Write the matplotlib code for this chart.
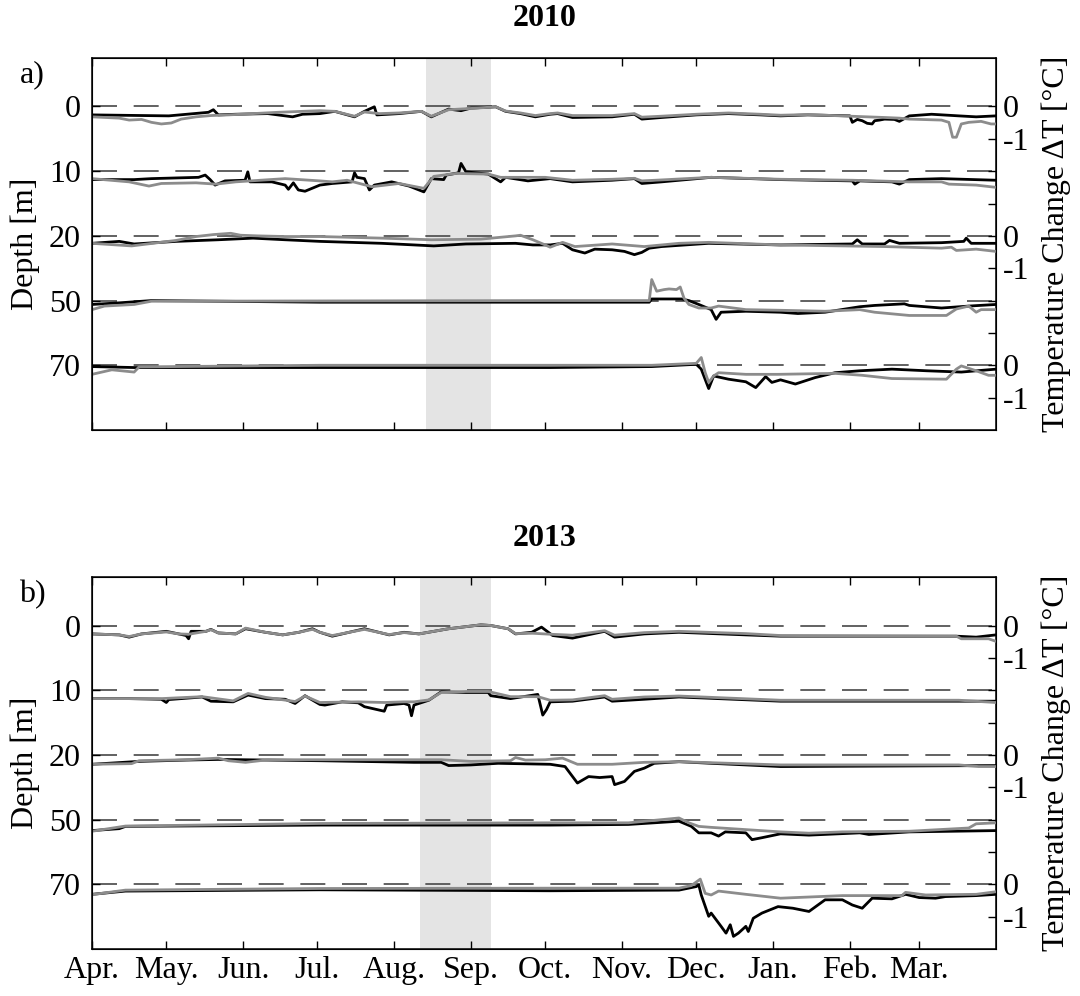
import matplotlib.pyplot as plt
import numpy as np

plt.rcParams['font.family'] = ['Liberation Serif', 'DejaVu Serif']
plt.rcParams['lines.scale_dashes'] = False

# day of year counted from 1 April
month_days = [0, 30, 61, 91, 122, 153, 183, 214, 244, 275, 306, 334]
month_names = ['Apr.', 'May.', 'Jun.', 'Jul.', 'Aug.', 'Sep.', 'Oct.', 'Nov.',
               'Dec.', 'Jan.', 'Feb.', 'Mar.']
depths = ['0', '10', '20', '50', '70']

# shaded period (days)
shade_2010 = (135, 161)
shade_2013 = (132.4, 161)

# temperature change dT [degC] as (day, value); black / gray instrument
a0_blk = [(0,-0.26),(31,-0.29),(47,-0.18),(49,-0.10),(51,-0.26),(58,-0.24),(71,-0.22),(81,-0.32),(85,-0.24),(92,-0.22),
          (98,-0.15),(106,-0.32),(110,-0.15),(114,-0.01),(115,-0.26),(124,-0.22),(133,-0.15),(137,-0.32),(144,-0.08),
          (149,-0.13),(153,-0.05),(163,-0.01),(167,-0.15),(173,-0.22),(179,-0.32),(185,-0.24),(188,-0.22),(194,-0.34),
          (210,-0.32),(219,-0.24),(222,-0.39),(230,-0.34),(244,-0.26),(257,-0.22),(270,-0.26),(278,-0.29),(289,-0.26),
          (306,-0.29),(307,-0.49),(309,-0.40),(311,-0.44),(313,-0.52),(315,-0.54),(316,-0.44),(318,-0.42),(320,-0.39),
          (324,-0.40),(326,-0.46),(330,-0.29),(339,-0.24),(350,-0.29),(357,-0.32),(365,-0.29)]
a0_gry = [(0,-0.32),(11,-0.36),(15,-0.42),(20,-0.40),(24,-0.49),(28,-0.54),(32,-0.51),(36,-0.39),(42,-0.32),(48,-0.28),
          (55,-0.26),(65,-0.22),(75,-0.18),(85,-0.15),(92,-0.13),(98,-0.15),(106,-0.30),(110,-0.17),(116,-0.22),
          (124,-0.20),(133,-0.15),(137,-0.30),(144,-0.10),(153,-0.06),(163,-0.01),(167,-0.14),(173,-0.20),(179,-0.28),
          (185,-0.22),(188,-0.20),(194,-0.28),(210,-0.28),(219,-0.22),(222,-0.33),(230,-0.30),(244,-0.24),(257,-0.20),
          (270,-0.24),(278,-0.27),(289,-0.25),(306,-0.30),(320,-0.34),(326,-0.36),(330,-0.39),(343,-0.42),(346,-0.49),
          (347.5,-0.95),(349,-0.95),(351,-0.54),(354,-0.49),(359,-0.46),(363,-0.54),(365,-0.54)]
a10_blk = [(0,-0.26),(17,-0.26),(24,-0.23),(43,-0.19),(45.7,-0.12),(47.7,-0.26),(49.7,-0.43),(53.7,-0.30),(61.8,-0.28),
           (62.9,-0.02),(63.8,-0.33),(72.6,-0.33),(78,-0.43),(79.3,-0.56),(81.3,-0.36),(83.3,-0.58),(86,-0.62),(92,-0.43),
           (97,-0.38),(105,-0.33),(106,-0.05),(107,-0.19),(110,-0.23),(112,-0.58),(114,-0.43),(121,-0.33),(128,-0.46),
           (134,-0.64),(137,-0.23),(142,-0.26),(143,-0.12),(148,-0.05),(149,0.24),(151,-0.02),(160,-0.09),(165,-0.33),
           (167,-0.19),(176,-0.30),(185,-0.23),(194,-0.33),(210,-0.28),(219,-0.23),(222,-0.38),(230,-0.33),(250,-0.19),
           (278,-0.26),(307,-0.30),(308,-0.40),(310,-0.30),(323,-0.33),(326,-0.40),(330,-0.26),(343,-0.23),(365,-0.28)]
a10_gry = [(0,-0.23),(15,-0.33),(23,-0.46),(28,-0.38),(42,-0.36),(50,-0.40),(58,-0.33),(78,-0.23),(92,-0.30),(97,-0.33),
           (103,-0.28),(113,-0.48),(124,-0.38),(134,-0.53),(138,-0.16),(147,-0.07),(160,-0.09),(165,-0.19),(183,-0.19),
           (194,-0.28),(210,-0.25),(219,-0.22),(222,-0.30),(230,-0.27),(250,-0.19),(278,-0.25),(307,-0.28),(330,-0.33),
           (343,-0.33),(346,-0.40),(357,-0.43),(365,-0.50)]
a20_blk = [(0,-0.23),(11,-0.17),(17,-0.25),(34,-0.17),(51,-0.12),(65,-0.07),(78,-0.12),(92,-0.17),(117,-0.23),(138,-0.31),
           (151,-0.25),(171,-0.23),(178,-0.28),(185,-0.28),(190,-0.23),(194,-0.43),(199,-0.53),(203,-0.41),(210,-0.43),
           (215,-0.48),(219,-0.58),(222,-0.51),(225,-0.38),(230,-0.33),(249,-0.23),(278,-0.28),(307,-0.25),(309,-0.12),
           (311,-0.25),(320,-0.25),(322,-0.14),(326,-0.23),(343,-0.21),(352,-0.17),(353,-0.07),(355,-0.23),(365,-0.23)]
a20_gry = [(0,-0.23),(16,-0.31),(34,-0.14),(42,-0.02),(49,0.04),(56,0.08),(60,0.02),(67,0.0),(78,-0.02),(92,-0.02),
           (117,-0.07),(137,-0.12),(157,-0.10),(171,0.0),(173,0.02),(178,-0.12),(183,-0.28),(185,-0.35),(190,-0.20),
           (195,-0.33),(210,-0.25),(223,-0.33),(237,-0.23),(249,-0.20),(278,-0.28),(320,-0.33),(343,-0.38),(347,-0.35),
           (349,-0.45),(357,-0.41),(365,-0.48)]
a50_blk = [(0,-0.12),(11,-0.07),(24,0.0),(92,-0.05),(185,-0.05),(225,-0.05),(226,0.05),(238,0.05),(241,0.0),(245,-0.12),
           (250,-0.28),(252,-0.58),(254,-0.36),(264,-0.33),(278,-0.36),(285,-0.40),(296,-0.36),(310,-0.19),(316,-0.15),
           (328,-0.10),(330,-0.15),(343,-0.23),(354,-0.17),(365,-0.12)]
a50_gry = [(0,-0.28),(5,-0.17),(17,-0.12),(24,-0.02),(185,0.0),(225,0.0),(226,0.65),(228,0.29),(231,0.34),(233,0.36),
           (236,0.34),(237.5,0.42),(239,0.08),(241,-0.12),(245,-0.23),(250,-0.23),(253,-0.17),(264,-0.28),(278,-0.30),
           (296,-0.33),(310,-0.28),(316,-0.36),(330,-0.46),(345,-0.46),(349,-0.26),(354,-0.17),(357,-0.36),(359,-0.28),
           (365,-0.28)]
a70_blk = [(0,-0.04),(17,-0.07),(92,-0.07),(185,-0.07),(226,-0.04),(244,0.03),(246,-0.12),(249,-0.72),(251,-0.33),
           (257,-0.43),(264,-0.51),(268,-0.69),(272,-0.35),(274.5,-0.53),(278,-0.45),(284,-0.58),(292,-0.38),(300,-0.23),
           (310,-0.17),(323,-0.12),(337,-0.17),(351,-0.21),(365,-0.12)]
a70_gry = [(0,-0.28),(8,-0.14),(17,-0.21),(19,-0.05),(92,0.0),(226,0.0),(244,0.06),(246,0.24),(247.6,-0.23),(249,-0.53),
           (251,-0.33),(253,-0.23),(264,-0.28),(277,-0.28),(300,-0.25),(311,-0.31),(323,-0.41),(345,-0.43),(349,-0.12),
           (351,-0.02),(357,-0.17),(362,-0.31),(365,-0.31)]

b0_blk = [(0,-0.26),(11,-0.29),(15,-0.36),(20,-0.26),(30,-0.18),(35,-0.26),(38,-0.31),(39,-0.41),(40,-0.18),(46,-0.18),
          (48,-0.12),(51,-0.23),(58,-0.26),(62,-0.10),(70,-0.21),(77,-0.29),(83.5,-0.21),(89,-0.10),(92,-0.21),(97,-0.33),
          (110,-0.10),(120,-0.29),(126,-0.21),(132,-0.26),(144,-0.10),(157,0.02),(161,0.0),(168,-0.10),(171,-0.26),
          (177.5,-0.21),(181.5,-0.05),(186,-0.31),(194,-0.39),(207,-0.18),(211,-0.36),(223,-0.26),(237,-0.21),
          (264,-0.29),(278,-0.33),(349,-0.33),(357,-0.36),(365,-0.29)]
b0_gry = [(0,-0.26),(11,-0.29),(15,-0.34),(20,-0.26),(30,-0.20),(35,-0.26),(39,-0.27),(46,-0.18),(48,-0.13),(51,-0.23),
          (58,-0.26),(62,-0.08),(70,-0.21),(77,-0.29),(83.5,-0.21),(89,-0.12),(92,-0.21),(97,-0.31),(110,-0.12),
          (120,-0.28),(126,-0.22),(132,-0.26),(144,-0.10),(157,0.02),(161,0.0),(168,-0.10),(171,-0.25),(178,-0.24),
          (185,-0.27),(194,-0.30),(207,-0.16),(211,-0.30),(223,-0.22),(237,-0.18),(264,-0.25),(278,-0.31),(349,-0.33),
          (351,-0.41),(362,-0.41),(365,-0.49)]
b10_blk = [(0,-0.26),(15,-0.26),(28,-0.28),(30,-0.38),(31,-0.29),(44.5,-0.21),(48,-0.34),(57,-0.36),(63,-0.15),(70,-0.26),
           (78,-0.28),(82,-0.41),(86,-0.17),(92,-0.44),(94,-0.46),(101,-0.36),(107.5,-0.39),(110,-0.51),(118,-0.65),
           (119,-0.46),(126,-0.41),(128,-0.46),(129,-0.79),(130,-0.46),(136,-0.31),(141,-0.05),(151,-0.07),(160,-0.07),
           (161,-0.17),(169,-0.26),(180,-0.13),(182,-0.77),(183.5,-0.60),(185,-0.36),(194,-0.34),(207,-0.21),(210,-0.34),
           (223,-0.28),(237,-0.21),(278,-0.34),(365,-0.34)]
b10_gry = [(0,-0.26),(28,-0.26),(44.5,-0.20),(57,-0.33),(63,-0.10),(70,-0.22),(82,-0.35),(86,-0.18),(92,-0.38),
           (107.5,-0.36),(118,-0.38),(126,-0.36),(130,-0.36),(136,-0.30),(141,-0.07),(151,-0.04),(160,-0.04),(169,-0.20),
           (180,-0.20),(185,-0.31),(194,-0.30),(207,-0.17),(210,-0.28),(223,-0.21),(237,-0.18),(278,-0.31),(350,-0.31),
           (365,-0.38)]
b20_blk = [(0,-0.29),(19,-0.20),(38,-0.16),(51,-0.14),(92,-0.18),(130,-0.23),(141,-0.23),(144,-0.33),(153,-0.31),
           (164,-0.26),(185,-0.29),(191,-0.36),(196,-0.87),(200.5,-0.67),(205,-0.70),(210,-0.67),(211,-0.92),(215,-0.82),
           (219,-0.51),(223,-0.41),(227,-0.26),(237,-0.21),(250,-0.26),(278,-0.36),(365,-0.33)]
b20_gry = [(0,-0.29),(16,-0.27),(19,-0.18),(38,-0.15),(51,-0.10),(55,-0.18),(62,-0.23),(71,-0.15),(92,-0.15),(141,-0.15),
           (153,-0.20),(169,-0.18),(171,-0.08),(175,-0.16),(183,-0.15),(190,-0.10),(196,-0.29),(210,-0.29),(223,-0.23),
           (237,-0.21),(278,-0.31),(350,-0.31),(358,-0.36),(365,-0.36)]
b50_blk = [(0,-0.34),(11,-0.28),(13.5,-0.21),(92,-0.17),(185,-0.17),(216.6,-0.15),(237,-0.05),(242,-0.21),(245,-0.41),
           (250,-0.41),(253,-0.51),(255.7,-0.38),(264,-0.41),(266.5,-0.62),(270.5,-0.56),(278,-0.44),(289.5,-0.48),
           (310,-0.41),(313.7,-0.46),(330,-0.38),(365,-0.34)]
b50_gry = [(0,-0.36),(13.5,-0.20),(92,-0.12),(185,-0.10),(216.6,-0.10),(237,0.05),(241,-0.10),(245,-0.21),(250,-0.24),
           (264,-0.31),(278,-0.38),(289.5,-0.42),(303,-0.38),(330,-0.36),(354,-0.26),(357,-0.13),(365,-0.10)]
b70_blk = [(0,-0.31),(13.5,-0.21),(92,-0.17),(185,-0.20),(237,-0.18),(244,-0.07),(245,-0.02),(246,-0.33),(249,-0.99),
           (250,-0.89),(254,-1.30),(256,-1.51),(257.7,-1.25),(259,-1.61),(261,-1.51),(264,-1.30),(265,-1.46),(267,-1.05),
           (270.5,-0.89),(277,-0.69),(283,-0.74),(289.5,-0.84),(296,-0.48),(303,-0.48),(307,-0.64),(311,-0.74),(315,-0.43),
           (323,-0.45),(328.5,-0.31),(334,-0.41),(340.6,-0.43),(344.6,-0.38),(357,-0.35),(365,-0.31)]
b70_gry = [(0,-0.32),(13.5,-0.18),(92,-0.13),(185,-0.12),(237,-0.12),(242,-0.04),(245.6,0.16),(247.6,-0.28),(250,-0.33),
           (253,-0.21),(264,-0.31),(278,-0.43),(303,-0.35),(327,-0.35),(328.5,-0.25),(336.6,-0.33),(357,-0.31),(365,-0.23)]

black_2010 = [a0_blk, a10_blk, a20_blk, a50_blk, a70_blk]
gray_2010 = [a0_gry, a10_gry, a20_gry, a50_gry, a70_gry]
black_2013 = [b0_blk, b10_blk, b20_blk, b50_blk, b70_blk]
gray_2013 = [b0_gry, b10_gry, b20_gry, b50_gry, b70_gry]

FS = 23


def panel(ax, blk, gry, shade, show_months):
    ax.axvspan(shade[0], shade[1], color='#e4e4e4', lw=0, zorder=0)
    for i in range(len(depths)):
        off = -2 * i
        ax.axhline(off, color='#555555', lw=1.3, dashes=(18, 12), zorder=1)
        d, v = np.array(blk[i]).T
        ax.plot(d, v + off, color='black', lw=2.0, zorder=2)
        d, v = np.array(gry[i]).T
        ax.plot(d, v + off, color='#8c8c8c', lw=2.0, zorder=3)

    ax.set_xlim(0, 365)
    ax.set_ylim(-10, 1.5)
    ax.set_xticks(month_days)
    ax.set_xticklabels(month_names if show_months else [])
    ax.set_yticks([-2 * i for i in range(len(depths))])
    ax.set_yticklabels(depths)
    ax.tick_params(direction='in', length=6, width=1, labelsize=FS, top=True)
    ax.tick_params(axis='y', pad=8)
    ax.tick_params(axis='x', pad=5)
    ax.set_ylabel('Depth [m]', fontsize=FS)
    ax.yaxis.set_label_coords(-0.057, 0.5)
    for s in ax.spines.values():
        s.set_linewidth(1.1)

    ax2 = ax.twinx()
    ax2.set_ylim(-10, 1.5)
    ax2.set_yticks(np.arange(0, -10, -1))
    ax2.set_yticklabels(['0', '-1', '', '', '0', '-1', '', '', '0', '-1'])
    ax2.tick_params(direction='in', length=6, width=1, labelsize=FS, pad=5)
    ax2.set_ylabel('Temperature Change ΔT [°C]', fontsize=FS)
    ax2.yaxis.set_label_coords(1.050, 0.5)


fig = plt.figure(figsize=(10.8, 9.96), dpi=100)
ax_a = fig.add_axes([0.0852, 0.5683, 0.837, 0.3735])
ax_b = fig.add_axes([0.0852, 0.0472, 0.837, 0.3735])

panel(ax_a, black_2010, gray_2010, shade_2010, False)
panel(ax_b, black_2013, gray_2013, shade_2013, True)

fig.text(0.504, 0.981, '2010', ha='center', va='center', fontsize=FS, fontweight='bold')
fig.text(0.504, 0.459, '2013', ha='center', va='center', fontsize=FS, fontweight='bold')
fig.text(0.018, 0.925, 'a)', ha='left', va='center', fontsize=FS)
fig.text(0.018, 0.403, 'b)', ha='left', va='center', fontsize=FS)

fig.savefig('out.png', dpi=100)
